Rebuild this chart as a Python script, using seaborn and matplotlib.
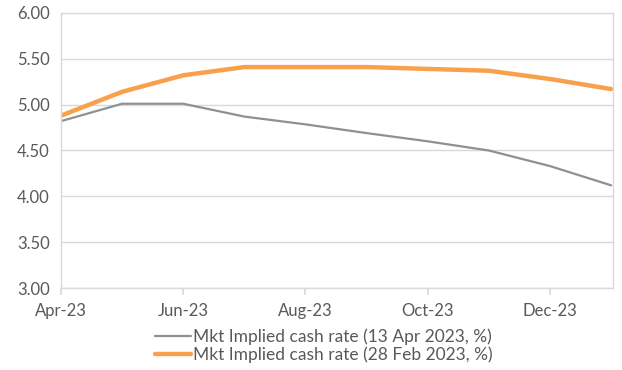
import matplotlib
matplotlib.use("Agg")
import matplotlib.pyplot as plt
import seaborn as sns
import pandas as pd

months = ["Apr-23", "May-23", "Jun-23", "Jul-23", "Aug-23", "Sep-23",
          "Oct-23", "Nov-23", "Dec-23", "Jan-24"]
apr13 = [4.82, 5.01, 5.01, 4.87, 4.785, 4.69, 4.60, 4.50, 4.33, 4.12]
feb28 = [4.88, 5.14, 5.32, 5.41, 5.41, 5.41, 5.39, 5.37, 5.28, 5.17]
label_apr = "Mkt Implied cash rate (13 Apr 2023, %)"
label_feb = "Mkt Implied cash rate (28 Feb 2023, %)"
yticks = [3.0, 3.5, 4.0, 4.5, 5.0, 5.5, 6.0]
xtick_idx = [0, 2, 4, 6, 8]

sns.set_theme(style="white")
plt.rcParams["font.family"] = ["Lato", "DejaVu Sans"]

df = pd.DataFrame({"x": list(range(len(months))) * 2,
                   "y": apr13 + feb28,
                   "s": [label_apr] * len(months) + [label_feb] * len(months)})

fig = plt.figure(figsize=(6.22, 3.70), dpi=100)
ax = fig.add_axes([0.098, 0.2216, 0.8875, 0.7433])
sns.lineplot(data=df, x="x", y="y", hue="s", size="s",
             palette={label_apr: "#8e9094", label_feb: "#f9a04c"},
             sizes={label_apr: 1.6, label_feb: 3.2},
             ax=ax, legend=False)

ax.set_xlim(0, 9.03)
ax.set_ylim(3, 6)
ax.set_yticks(yticks)
ax.set_yticklabels([f"{v:.2f}" for v in yticks])
ax.set_xticks(xtick_idx)
ax.set_xticklabels([months[i] for i in xtick_idx])
ax.set_xlabel("")
ax.set_ylabel("")
ax.grid(axis="y", color="#d9d9d9", linewidth=1)
for sp in ax.spines.values():
    sp.set_color("#d9d9d9")
    sp.set_linewidth(1)
ax.tick_params(axis="x", which="major", length=5, color="#d9d9d9",
               labelsize=12, labelcolor="#595959", bottom=True, pad=6)
ax.tick_params(axis="y", length=0, labelsize=12, labelcolor="#595959", pad=8)

from matplotlib.lines import Line2D
handles = [Line2D([], [], color="#8e9094", lw=1.6),
           Line2D([], [], color="#f9a04c", lw=3.2)]
fig.legend(handles, [label_apr, label_feb], loc="upper left",
           bbox_to_anchor=(0.249, 0.113), frameon=False, fontsize=12.5,
           labelcolor="#595959", handlelength=2.1, handletextpad=0.1,
           labelspacing=0.12, borderpad=0, borderaxespad=0)

fig.savefig("out.png", dpi=100)
